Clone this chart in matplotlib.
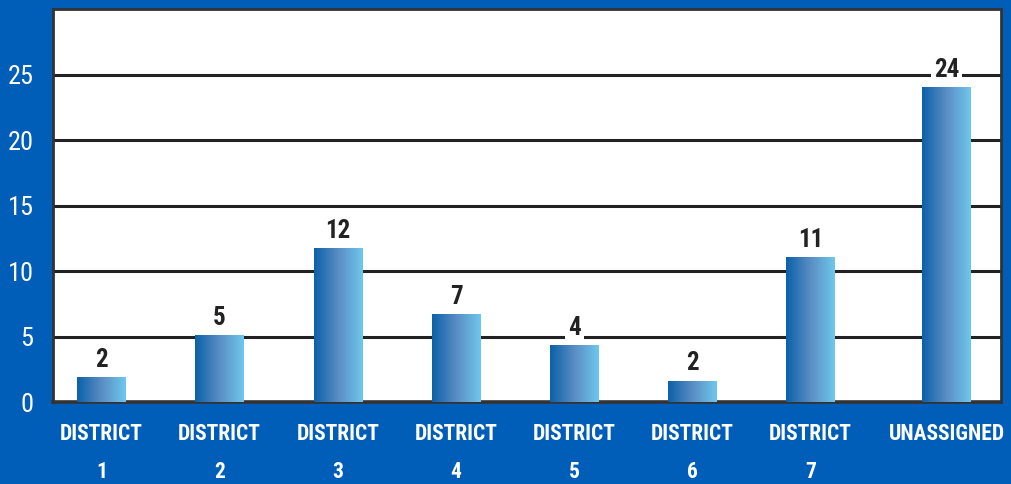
import numpy as np
import matplotlib
matplotlib.use("Agg")
import matplotlib.pyplot as plt
from matplotlib import font_manager
from matplotlib.colors import LinearSegmentedColormap

# ================================
# DATA
# ================================
categories = ["DISTRICT\n1", "DISTRICT\n2", "DISTRICT\n3", "DISTRICT\n4",
              "DISTRICT\n5", "DISTRICT\n6", "DISTRICT\n7", "UNASSIGNED"]
bar_heights = [1.9, 5.05, 11.7, 6.7, 4.3, 1.6, 11.0, 24.0]
bar_labels = ["2", "5", "12", "7", "4", "2", "11", "24"]
y_ticks = [0, 5, 10, 15, 20, 25]

# ================================
# STYLE
# ================================
BG = "#005db8"
installed = {f.name for f in font_manager.fontManager.ttflist}
condensed = [n for n in ["Roboto Condensed", "Liberation Sans Narrow",
                         "Open Sans Condensed"] if n in installed]
if condensed:
    FONT = [condensed[0], "DejaVu Sans"]
    xlab_size, val_size, ytick_size = 15.5, 18, 19
else:
    FONT = ["Roboto", "DejaVu Sans"]
    xlab_size, val_size, ytick_size = 12.5, 17, 18
plt.rcParams["font.family"] = FONT

grad_cmap = LinearSegmentedColormap.from_list(
    "bar", ["#0b61a8", "#5a8dc4", "#6ec8ec"]
)

fig = plt.figure(figsize=(10.12, 4.84), dpi=100, facecolor=BG)
ax = fig.add_axes([0.0524, 0.1694, 0.9366, 0.812])
ax.set_facecolor("white")

x = np.arange(len(categories), dtype=float)
x[-1] += 0.15  # last bar sits a little further right
bar_w = 0.41

ax.set_xlim(-0.41, x[-1] + 0.46)
ax.set_ylim(0, 30)

# ---- gradient bars ----
grad = np.linspace(0, 1, 256).reshape(1, -1)
for xi, h in zip(x, bar_heights):
    ax.imshow(grad, cmap=grad_cmap, aspect="auto", interpolation="bilinear",
              extent=(xi - bar_w / 2, xi + bar_w / 2, 0, h), zorder=3)

# ---- value labels ----
for xi, h, lab in zip(x, bar_heights, bar_labels):
    ax.annotate(lab, (xi, h), xytext=(0, 4), textcoords="offset points",
                ha="center", va="bottom", fontsize=val_size, fontweight="bold",
                color="#222222", zorder=4,
                bbox=dict(boxstyle="square,pad=0.12", fc="white", ec="none"))

# ---- grid ----
for yv in y_ticks[1:]:
    ax.axhline(yv, color="#222222", lw=2.2, zorder=1)

# ---- axes ----
ax.set_yticks(y_ticks)
ax.set_yticklabels([str(v) for v in y_ticks])
ax.set_xticks(x)
ax.set_xticklabels(categories)
ax.tick_params(axis="y", length=0, pad=14, labelsize=ytick_size, labelcolor="white")
ax.tick_params(axis="x", length=0, pad=15, labelsize=xlab_size, labelcolor="white")
for t in ax.get_xticklabels():
    t.set_fontweight("bold")
    t.set_linespacing(1.95)

for s in ax.spines.values():
    s.set_color("#333333")
    s.set_linewidth(2)
ax.spines["bottom"].set_linewidth(2.6)

fig.savefig("out.png", dpi=100, facecolor=BG)
